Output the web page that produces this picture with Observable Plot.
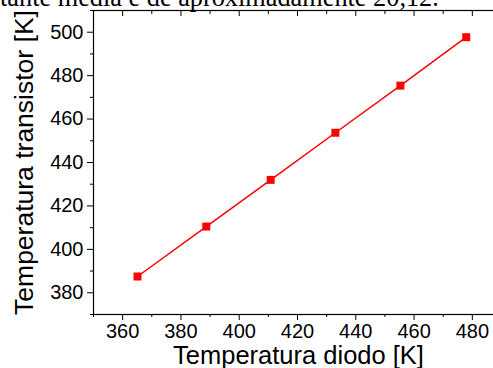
<!DOCTYPE html>
<html>
<head>
<meta charset="utf-8">
<script src="https://cdn.jsdelivr.net/npm/d3@7"></script>
<script src="https://cdn.jsdelivr.net/npm/@observablehq/plot@0.6"></script>
<style>
  html, body { margin: 0; padding: 0; background: #fff; overflow: hidden; width: 493px; height: 368px; }
  #wrap { position: relative; width: 493px; height: 368px; overflow: hidden; }
  #doc { position: absolute; left: 0; top: -15px; font-family: "Liberation Serif", "Times New Roman", serif; font-size: 26.3px; line-height: 26px; white-space: nowrap; color: #000; }
  #chart { position: absolute; left: 0; top: 0; }
</style>
</head>
<body>
<div id="wrap">
  <div id="chart"></div>
  <div id="doc">tante média é de aproximadamente 20,12.</div>
</div>
<script>
const diodo = [365.1, 388.7, 410.8, 433.0, 455.3, 477.9];
const transistor = [387.5, 410.5, 432.0, 453.7, 475.4, 497.7];
const xMajor = [360, 380, 400, 420, 440, 460, 480];
const xMinor = [350, 370, 390, 410, 430, 450, 470, 490];
const yMajor = [380, 400, 420, 440, 460, 480, 500];
const yMinor = [370, 390, 410, 430, 450, 470, 490, 510];
const xTitle = "Temperatura diodo [K]";
const yTitle = "Temperatura transistor [K]";

const data = diodo.map((d, i) => ({x: d, y: transistor[i]}));

const font = "'Liberation Sans', Arial, sans-serif";
const chart = Plot.plot({
  width: 493,
  height: 368,
  marginLeft: 93,
  marginRight: -8,
  marginTop: 10,
  marginBottom: 54,
  style: {fontFamily: font, color: "#000", overflow: "visible"},
  x: {domain: [350, 490]},
  y: {domain: [370, 510]},
  marks: [
    Plot.frame({stroke: "#000", strokeWidth: 1.2}),
    Plot.axisY({ticks: yMajor, tickSize: 6, tickPadding: 4, fontSize: 20, label: null, stroke: "#000"}),
    Plot.axisY({ticks: yMinor, tickSize: 3, text: null, label: null}),
    Plot.axisY({anchor: "right", ticks: yMajor, tickSize: -5, text: null, label: null}),
    Plot.axisY({anchor: "right", ticks: yMinor, tickSize: -3, text: null, label: null}),
    Plot.axisX({ticks: xMajor, tickSize: 6, tickPadding: 3, fontSize: 20, label: null}),
    Plot.axisX({ticks: xMinor, tickSize: 3, text: null, label: null}),
    Plot.axisX({anchor: "top", ticks: xMajor, tickSize: -5, text: null, label: null}),
    Plot.axisX({anchor: "top", ticks: xMinor, tickSize: -3, text: null, label: null}),
    Plot.line(data, {x: "x", y: "y", stroke: "#ff0000", strokeWidth: 1.5}),
    Plot.dot(data, {x: "x", y: "y", symbol: "square", r: 4.5, fill: "#ff0000", stroke: "none"}),
    Plot.text([xTitle], {frameAnchor: "bottom", dy: 41, dx: 1, fontSize: 25.5, fill: "#000", textAnchor: "middle", lineAnchor: "middle"}),
    Plot.text([yTitle], {frameAnchor: "left", dx: -69, rotate: -90, fontSize: 26.5, fill: "#000", textAnchor: "middle", lineAnchor: "middle"})
  ]
});
document.getElementById("chart").appendChild(chart);
</script>
</body>
</html>
